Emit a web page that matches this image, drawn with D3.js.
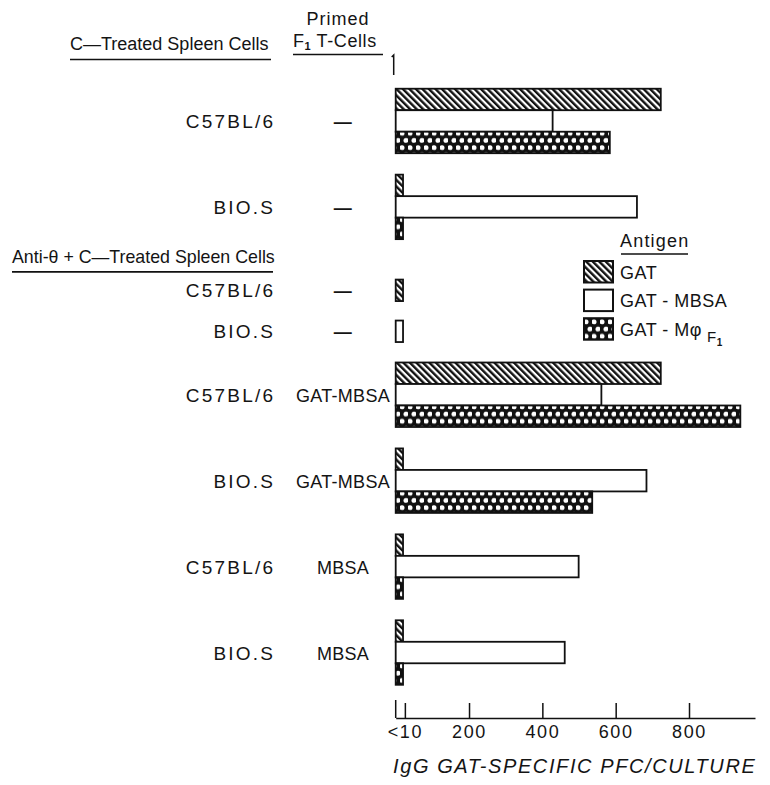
<!DOCTYPE html>
<html>
<head>
<meta charset="utf-8">
<script src="https://cdn.jsdelivr.net/npm/d3@7"></script>
<style>
  html, body { margin: 0; padding: 0; background: #fff; }
  svg { display: block; }
  text { fill: #141414; font-family: "Liberation Sans", Arial, sans-serif; }
</style>
</head>
<body>
<svg id="chart" width="770" height="785"></svg>
<script>
// Spleen-cell cultures: strain, primed F1 T-cells, and IgG PFC per antigen
const strains = ["C57BL/6", "BIO.S", "C57BL/6", "BIO.S", "C57BL/6", "BIO.S", "C57BL/6", "BIO.S"];
const primedCells = ["—", "—", "—", "—", "GAT-MBSA", "GAT-MBSA", "MBSA", "MBSA"];
const sectionOfRow = [0, 0, 1, 1, 1, 1, 1, 1];
const sectionTitles = ["C\u2014Treated Spleen Cells", "Anti-\u03B8 + C\u2014Treated Spleen Cells"];

// IgG GAT-specific PFC/culture (null = not tested)
const gatValues      = [723, 20, 20, null, 723, 20, 20, 20];
const gatMbsaValues  = [428, 658, null, 20, 561, 684, 499, 461];
const gatMphiValues  = [584, 20, null, null, 940, 536, 20, 20];

const antigenNames = ["GAT", "GAT-MBSA", "GAT-M\u03C6"];
const tickValues = [25, 200, 400, 600, 800];
const tickLabels = ["<10", "200", "400", "600", "800"];

const svg = d3.select("#chart");

// ---- fill patterns ----
const defs = svg.append("defs");
const hatch = defs.append("pattern")
  .attr("id", "hatch").attr("patternUnits", "userSpaceOnUse")
  .attr("width", 4.6).attr("height", 4.6)
  .attr("patternTransform", "rotate(-45)");
hatch.append("rect").attr("width", 4.6).attr("height", 4.6).attr("fill", "#fff");
hatch.append("rect").attr("width", 2.4).attr("height", 4.6).attr("fill", "#111");

const dots = defs.append("pattern")
  .attr("id", "dots").attr("patternUnits", "userSpaceOnUse")
  .attr("width", 8).attr("height", 14.4);
dots.append("rect").attr("width", 8).attr("height", 14.4).attr("fill", "#111");
dots.append("circle").attr("cx", 2).attr("cy", 3.6).attr("r", 2.5).attr("fill", "#fff");
dots.append("circle").attr("cx", 6).attr("cy", 10.8).attr("r", 2.5).attr("fill", "#fff");

const fills = ["url(#hatch)", "#fff", "url(#dots)"];

// ---- rows ----
const rows = strains.map((s, i) => ({
  strain: s,
  primed: primedCells[i],
  section: sectionOfRow[i],
  values: [gatValues[i], gatMbsaValues[i], gatMphiValues[i]]
}));

// vertical layout in "row units": a full row = 1, a single-bar row is compact
const compactUnit = 41 / 86, sectionGap = 20 / 86;
let cursor = 0;
rows.forEach((r, i) => {
  if (i > 0 && r.section !== rows[i - 1].section) cursor += sectionGap;
  r.size = r.values.filter(v => v != null).length === 1 ? compactUnit : 1;
  r.center = cursor + r.size / 2;
  cursor += r.size;
});
const y = d3.scaleLinear().domain([0, cursor]).range([78, 695.5]);
const barH = 21.5;

const x = d3.scaleLinear().domain([0, 980]).range([395.7, 755]);

// ---- bars ----
const barData = [];
rows.forEach(r => {
  const present = r.values.map((v, k) => ({ v, k })).filter(d => d.v != null);
  present.forEach(d => {
    const offset = present.length === 1 ? 0 : (d.k - 1);
    barData.push({ value: d.v, k: d.k, yc: y(r.center) + offset * barH });
  });
});

svg.append("g").selectAll("rect").data(barData).join("rect")
  .attr("x", x(0))
  .attr("y", d => d.yc - barH / 2)
  .attr("width", d => x(d.value) - x(0))
  .attr("height", barH)
  .attr("fill", d => fills[d.k])
  .attr("stroke", "#111")
  .attr("stroke-width", 1.8);

// ---- row labels ----
const labels = svg.append("g");
labels.selectAll("text.strain").data(rows).join("text")
  .attr("class", "strain")
  .attr("x", 275.2)
  .attr("y", d => y(d.center) + 7)
  .attr("text-anchor", "end")
  .style("font-size", "19px")
  .style("letter-spacing", "2.2px")
  .text(d => d.strain);

labels.selectAll("text.primed").data(rows).join("text")
  .attr("class", "primed")
  .attr("x", 343)
  .attr("y", d => y(d.center) + 7)
  .attr("text-anchor", "middle")
  .style("font-size", "18px")
  .style("font-weight", d => d.primed === "—" ? "bold" : "normal")
  .style("letter-spacing", "0.3px")
  .text(d => d.primed);

// ---- column and section headers ----
const head = svg.append("g").style("font-size", "18px");
head.append("text").attr("x", 70).attr("y", 50).text(sectionTitles[0]);
head.append("line").attr("x1", 70).attr("x2", 271).attr("y1", 59.5).attr("y2", 59.5)
  .attr("stroke", "#111").attr("stroke-width", 1.6);

head.append("text").attr("x", 338).attr("y", 25).attr("text-anchor", "middle")
  .style("letter-spacing", "1px").text("Primed");
const f1 = head.append("text").attr("x", 293).attr("y", 47).style("letter-spacing", "0.6px");
f1.append("tspan").text("F");
f1.append("tspan").attr("dy", 3).style("font-size", "11px").style("font-weight", "bold").text("1");
f1.append("tspan").attr("dy", -3).text(" T-Cells");
head.append("line").attr("x1", 293).attr("x2", 383).attr("y1", 54.5).attr("y2", 54.5)
  .attr("stroke", "#111").attr("stroke-width", 1.6);

const secY = (y(rows[1].center + rows[1].size / 2) + y(rows[2].center - rows[2].size / 2)) / 2;
head.append("text").attr("x", 12).attr("y", secY + 3)
  .style("font-size", "17.8px").text(sectionTitles[1]);
head.append("line").attr("x1", 12).attr("x2", 273).attr("y1", secY + 12).attr("y2", secY + 12)
  .attr("stroke", "#111").attr("stroke-width", 1.6);

// ---- x axis ----
const axisY = 718;
const axis = d3.axisBottom(x)
  .tickValues(tickValues)
  .tickFormat((d, i) => tickLabels[i])
  .tickSizeInner(-15)
  .tickSizeOuter(0)
  .tickPadding(7);
const gAxis = svg.append("g").attr("transform", `translate(0,${axisY})`).call(axis);
gAxis.select(".domain").attr("stroke", "#111").attr("stroke-width", 1.5);
gAxis.selectAll(".tick line").attr("stroke", "#111").attr("stroke-width", 1.5);
gAxis.selectAll(".tick text")
  .attr("fill", "#141414")
  .style("font-family", "\"Liberation Sans\", Arial, sans-serif")
  .style("font-size", "18px")
  .style("letter-spacing", "1.6px");
// short stubs of the value axis at both ends
svg.append("line").attr("x1", x(0)).attr("x2", x(0)).attr("y1", axisY - 18).attr("y2", axisY)
  .attr("stroke", "#111").attr("stroke-width", 1.5);
svg.append("path").attr("d", `M${x(0) - 4},${y(0) - 21} L${x(0) - 2},${y(0) - 23} L${x(0) - 2},${y(0) - 3}`)
  .attr("fill", "none").attr("stroke", "#111").attr("stroke-width", 1.5);

svg.append("text")
  .attr("x", 393).attr("y", 773)
  .style("font-size", "20px")
  .style("font-style", "italic")
  .style("letter-spacing", "1.6px")
  .text("IgG GAT-SPECIFIC PFC/CULTURE");

// ---- legend ----
const legend = svg.append("g").attr("transform", "translate(584,0)");
legend.append("text").attr("x", 36).attr("y", 247)
  .style("font-size", "18px").style("letter-spacing", "1.2px").text("Antigen");
legend.append("line").attr("x1", 37).attr("x2", 104).attr("y1", 254).attr("y2", 254)
  .attr("stroke", "#111").attr("stroke-width", 1.6);
const items = legend.selectAll("g.item").data(antigenNames).join("g")
  .attr("class", "item")
  .attr("transform", (d, i) => `translate(0,${261 + i * 28.6})`);
items.append("rect")
  .attr("width", 29).attr("height", 21.5)
  .attr("fill", (d, i) => fills[i])
  .attr("stroke", "#111").attr("stroke-width", 2);
const itemText = items.append("text")
  .attr("x", 36).attr("y", 17.5)
  .style("font-size", "18px")
  .style("letter-spacing", "0.5px");
itemText.append("tspan").text(d => d.replace("-", " - "));
itemText.filter((d, i) => i === 2).each(function () {
  const t = d3.select(this);
  t.append("tspan").attr("dx", 5).attr("dy", 6).style("font-size", "15px").text("F");
  t.append("tspan").attr("dy", 4).style("font-size", "10px").style("font-weight", "bold").text("1");
});
</script>
</body>
</html>
